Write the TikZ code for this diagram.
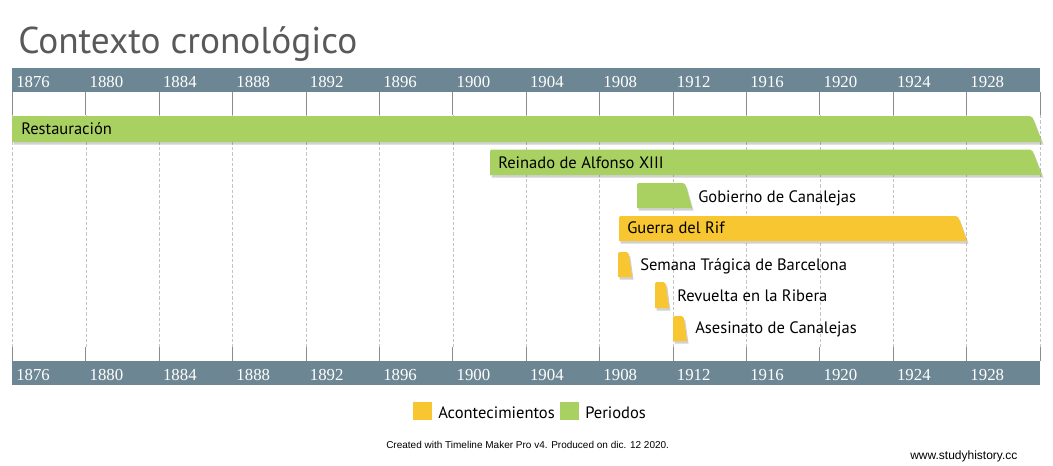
\documentclass[tikz,border=0pt]{standalone}
\usepackage{fontspec}
\setmainfont{PT Sans}
\newfontfamily\yearfont{Liberation Serif}
\newfontfamily\smallfont{Liberation Sans}
\definecolor{axisblue}{HTML}{6D8693}
\definecolor{pgreen}{HTML}{A9D162}
\definecolor{eyellow}{HTML}{F8C630}
\definecolor{titlegray}{HTML}{595959}
\definecolor{tickgray}{HTML}{8C8C8C}
\definecolor{gridgray}{HTML}{C4C4C4}
\newcommand\tlbar[6]{%
  \fill[black,opacity=0.18] (#1+1.5,#4+2.5) [rounded corners=1.5pt] -- (#1+1.5,#2+2.5) -- (#3-#5+1.5,#2+2.5) [sharp corners] -- (#3+1.5,#4+2.5) -- cycle;
  \fill[#6] (#1,#4) [rounded corners=1.5pt] -- (#1,#2) -- (#3-#5,#2) [sharp corners] -- (#3,#4) -- cycle;}
\begin{document}
\begin{tikzpicture}[x=0.75pt,y=-0.75pt,
  tick/.style={tickgray,line width=0.75pt},
  gridline/.style={gridgray,line width=0.6pt,dash pattern=on 2.5pt off 1.5pt},
  yearlbl/.style={anchor=base west,inner sep=0pt,text=white,font=\yearfont\fontsize{12.6}{14}\selectfont},
  lbl/.style={anchor=base west,inner sep=0pt,text=black,font=\fontsize{12.4}{14}\selectfont},
  legsq/.style={minimum width=14.3pt,minimum height=13.5pt,inner sep=0pt,anchor=north west}]
\useasboundingbox (0,0) rectangle (1053,465);
\fill[white] (0,0) rectangle (1053,465);
% title
\node[anchor=base west,inner sep=0pt,text=titlegray,font=\fontsize{28}{34}\selectfont] (title) at (18,53) {Contexto cronológico};
% axes
\fill[axisblue] (12,68) rectangle (1040,91.5);
\fill[axisblue] (12,361) rectangle (1040,385);
\foreach \i in {0,...,14} {
  \pgfmathsetmacro\xx{12.5+73.4*\i}
  \draw[gridline] (\xx,115) -- (\xx,347);
  \draw[tick] (\xx,91.5) -- (\xx,115);
  \draw[tick] (\xx,347) -- (\xx,361);
}
\foreach \i in {0,...,13} {
  \pgfmathsetmacro\xx{12.5+73.4*\i+3.5}
  \pgfmathtruncatemacro\yr{1876+4*\i}
  \node[yearlbl] (yt\i) at (\xx,87) {\yr};
  \node[yearlbl] (yb\i) at (\xx,380) {\yr};
}
% bars
\tlbar{12}{116}{1042}{142}{10}{pgreen}
\tlbar{490}{149.5}{1042}{175}{10}{pgreen}
\tlbar{637}{183}{692}{208}{7}{pgreen}
\tlbar{619}{216}{967}{241}{9}{eyellow}
\tlbar{618}{252}{632}{277}{3.5}{eyellow}
\tlbar{655}{282}{669}{308}{3.5}{eyellow}
\tlbar{673}{316}{687}{341}{3.5}{eyellow}
% labels
\node[lbl] (restauracion) at (21,134) {Restauración};
\node[lbl] (reinado) at (498,168) {Reinado de Alfonso XIII};
\node[lbl] (gobierno) at (698,202) {Gobierno de Canalejas};
\node[lbl] (guerra) at (627,233) {Guerra del Rif};
\node[lbl] (semana) at (640,270) {Semana Trágica de Barcelona};
\node[lbl] (revuelta) at (677,301) {Revuelta en la Ribera};
\node[lbl] (asesinato) at (695,333) {Asesinato de Canalejas};
% legend
\node[legsq,fill=eyellow] (legy) at (413,402) {};
\node[lbl] (legytext) at (438,418) {Acontecimientos};
\node[legsq,fill=pgreen] (legg) at (560,402) {};
\node[lbl] (leggtext) at (585,418) {Periodos};
% footer
\node[anchor=base west,inner sep=0pt,font=\smallfont\fontsize{7.5}{9}\selectfont] (created) at (386,448) {Created with Timeline Maker Pro v4. Produced on dic. 12 2020.};
\node[anchor=base west,inner sep=0pt,font=\smallfont\fontsize{9}{11}\selectfont] (www) at (910,459) {www.studyhistory.cc};
\end{tikzpicture}
\end{document}
